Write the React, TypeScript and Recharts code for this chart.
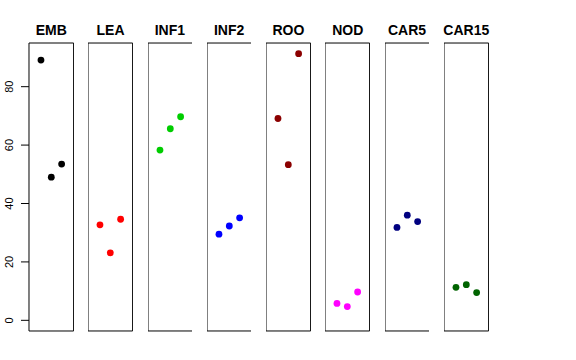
import { ReferenceArea, Scatter, ScatterChart, XAxis, YAxis } from 'recharts'

const tissues = ['EMB', 'LEA', 'INF1', 'INF2', 'ROO', 'NOD', 'CAR5', 'CAR15']
const colors = ['#000000', '#FF0000', '#00CD00', '#0000FF', '#8B0000', '#FF00FF', '#000080', '#006400']

const emb = [89.1, 49.0, 53.5]
const lea = [32.7, 23.1, 34.6]
const inf1 = [58.3, 65.6, 69.7]
const inf2 = [29.5, 32.3, 35.1]
const roo = [69.1, 53.3, 91.3]
const nod = [5.8, 4.7, 9.7]
const car5 = [31.8, 36.0, 33.8]
const car15 = [11.3, 12.2, 9.5]

const series = [emb, lea, inf1, inf2, roo, nod, car5, car15]
const yTicks = [0, 20, 40, 60, 80]

const X_DOMAIN: [number, number] = [-0.16, 4.16]
const Y_DOMAIN: [number, number] = [-3.65, 94.95]

const LEFT0 = 29
const STEP = 59.28
const PANEL_W = 44.6
const TOP = 43
const BOTTOM = 331
const H = 360
const AXIS_W = 29
const FONT = '"Liberation Sans", Arial, Helvetica, sans-serif'

function RotatedTick(props: any) {
  const { y, payload } = props
  return (
    <g>
      <line x1={21} x2={29} y1={y} y2={y} stroke="#000" />
      <text
        x={9}
        y={y}
        transform={`rotate(-90, 9, ${y})`}
        textAnchor="middle"
        dominantBaseline="central"
        fontSize={11}
        fontFamily={FONT}
        fill="#000"
      >
        {payload.value}
      </text>
    </g>
  )
}

function Panel({ index }: { index: number }) {
  const first = index === 0
  const left = first ? 0 : LEFT0 + index * STEP
  const width = first ? AXIS_W + PANEL_W : PANEL_W
  const data = series[index].map((v, i) => ({ x: i + 1, y: v }))
  const color = colors[index]
  return (
    <div style={{ position: 'absolute', left, top: 0 }}>
      <ScatterChart
        width={width}
        height={H}
        margin={{ top: TOP, right: 0, bottom: H - BOTTOM, left: 0 }}
      >
        <XAxis type="number" dataKey="x" domain={X_DOMAIN} hide />
        <YAxis
          type="number"
          dataKey="y"
          domain={Y_DOMAIN}
          ticks={yTicks}
          width={AXIS_W}
          hide={!first}
          axisLine={false}
          tickLine={false}
          tick={<RotatedTick />}
          interval={0}
        />
        <ReferenceArea
          x1={X_DOMAIN[0]}
          x2={X_DOMAIN[1]}
          y1={Y_DOMAIN[0]}
          y2={Y_DOMAIN[1]}
          fill="none"
          stroke="#000"
          strokeWidth={1}
          fillOpacity={0}
          ifOverflow="visible"
        />
        <Scatter
          data={data}
          isAnimationActive={false}
          shape={(p: any) => <circle cx={p.cx} cy={p.cy} r={3.4} fill={color} />}
        />
      </ScatterChart>
    </div>
  )
}

export default function App() {
  return (
    <div
      style={{
        position: 'absolute',
        left: 0,
        top: 0,
        width: 576,
        height: 360,
        background: '#fff',
        fontFamily: FONT,
      }}
    >
      {tissues.map((_, i) => (
        <Panel key={i} index={i} />
      ))}
      {tissues.map((t, i) => (
        <div
          key={t}
          style={{
            position: 'absolute',
            left: LEFT0 + i * STEP - 10,
            width: PANEL_W + 20,
            top: 21,
            height: 18,
            lineHeight: '18px',
            textAlign: 'center',
            fontWeight: 'bold',
            fontSize: 14,
          }}
        >
          {t}
        </div>
      ))}
    </div>
  )
}
